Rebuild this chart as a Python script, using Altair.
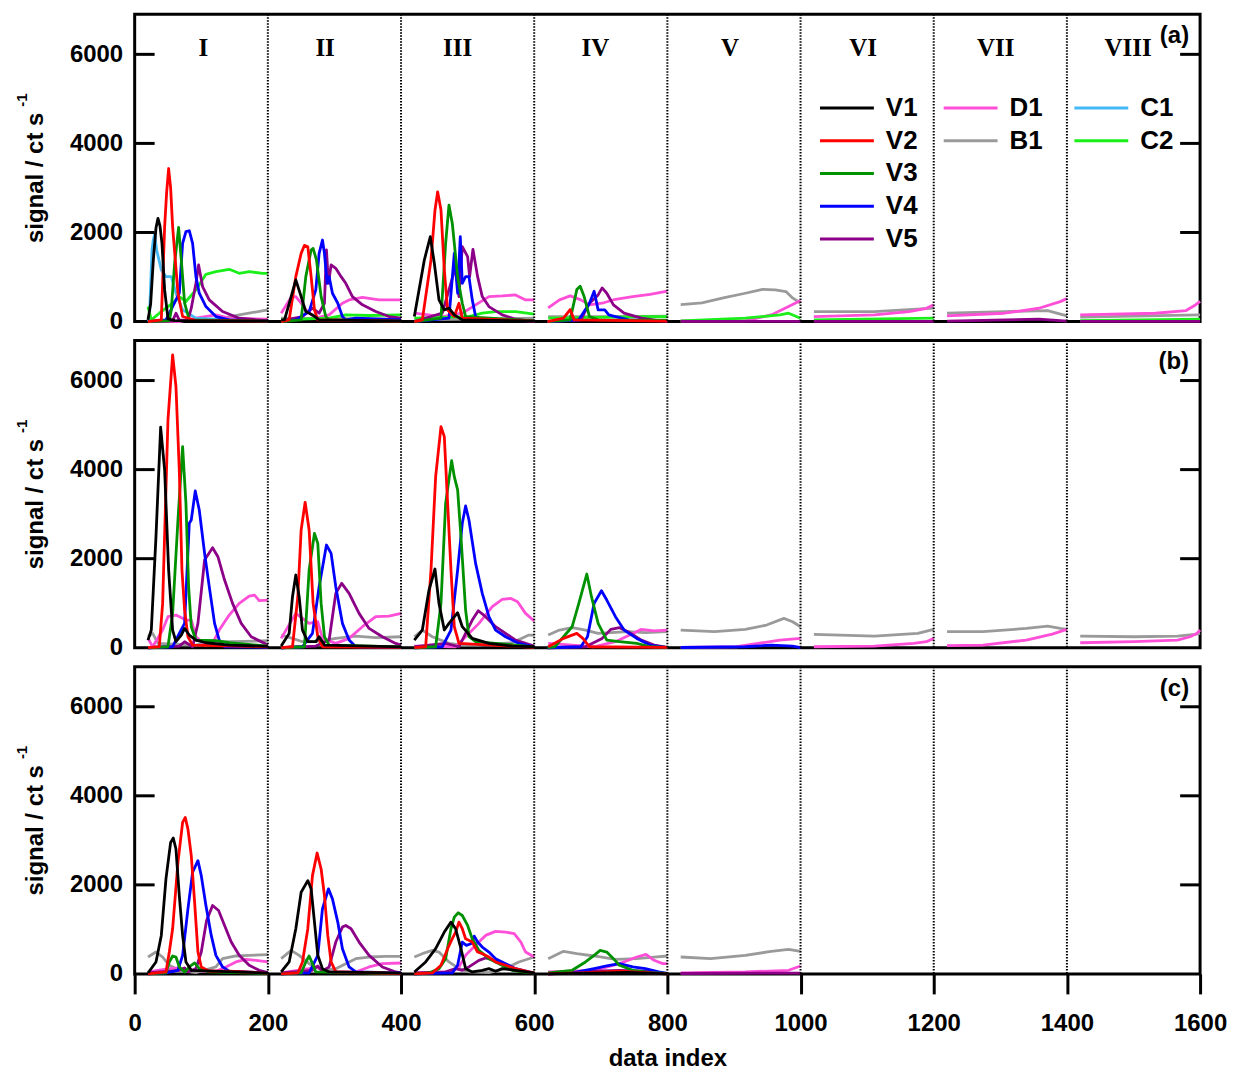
import altair as alt
import pandas as pd

# ---------------------------------------------------------------- series setup
SERIES = ["V1", "V2", "V3", "V4", "V5", "D1", "B1", "C1", "C2"]
COLORS = ["#000000", "#ff0000", "#009100", "#0000ff", "#8c0087",
          "#ff4fd8", "#9a9a9a", "#45b9f5", "#1aef1a"]
DRAW_ORDER = ["B1", "D1", "C1", "C2", "V5", "V4", "V3", "V2", "V1"]

BLOCK_NAMES = ["I", "II", "III", "IV", "V", "VI", "VII", "VIII"]
BLOCK_CENTRES = [103, 286, 485, 692, 894, 1094, 1293, 1492]
BLOCK_EDGES = [200, 400, 600, 800, 1000, 1200, 1400]
Y_TICKS = [2000, 4000, 6000]
X_TICKS = [0, 200, 400, 600, 800, 1000, 1200, 1400, 1600]
PANEL_TAGS = ["(a)", "(b)", "(c)"]

# ---------------------------------------------------------------- panel (a)
# every list holds one run per measurement block as (data index, signal) pairs
A_V1 = [
    [(20, 37), (24, 400), (28, 1380), (32, 2100), (35, 2316), (38, 2150), (41, 1755), (45, 710), (50, 60), (60, 20), (100, 15), (200, 10)],
    [(220, 37), (225, 37), (235, 560), (242, 934), (250, 560), (257, 224), (267, 149), (277, 37), (400, 10)],
    [(420, 112), (435, 1382), (444, 1905), (450, 1307), (457, 486), (465, 261), (472, 299), (480, 149), (492, 37), (600, 10)],
]
A_V2 = [
    [(20, 0), (40, 37), (45, 2129), (48, 2900), (51, 3436), (54, 3000), (57, 2129), (65, 635), (72, 112), (92, 20), (200, 10)],
    [(220, 0), (232, 37), (242, 1008), (250, 1531), (255, 1711), (260, 1680), (265, 1008), (270, 261), (275, 37), (400, 10)],
    [(420, 0), (432, 37), (445, 1382), (451, 2500), (455, 2913), (460, 2502), (465, 1158), (470, 261), (480, 112), (487, 411), (492, 75), (600, 10)],
    [(620, 0), (644, 75), (654, 269), (660, 37), (800, 10)],
]
A_V3 = [
    [(20, 0), (52, 20), (55, 261), (60, 1307), (66, 2114), (70, 1382), (75, 411), (82, 37), (200, 10)],
    [(220, 0), (250, 37), (257, 1008), (265, 1606), (268, 1643), (273, 1382), (280, 560), (287, 112), (292, 37), (400, 10)],
    [(420, 0), (460, 75), (467, 1755), (472, 2614), (477, 2204), (485, 1008), (492, 411), (497, 112), (600, 15)],
    [(620, 0), (654, 37), (664, 717), (669, 792), (675, 560), (683, 112), (696, 37), (800, 30)],
]
A_V4 = [
    [(20, 0), (47, 37), (57, 336), (67, 635), (72, 1755), (77, 2017), (82, 2039), (87, 1755), (92, 1008), (97, 635), (107, 336), (122, 112), (142, 37), (200, 15)],
    [(220, 0), (242, 37), (262, 224), (272, 710), (277, 1531), (282, 1830), (285, 1531), (289, 859), (292, 1008), (297, 635), (305, 411), (312, 112), (317, 37), (332, 75), (400, 37)],
    [(420, 0), (472, 75), (480, 1531), (485, 635), (489, 1905), (492, 859), (497, 1008), (502, 1008), (507, 486), (512, 112), (522, 37), (600, 10)],
    [(620, 0), (667, 37), (683, 411), (690, 680), (696, 261), (706, 261), (712, 149), (722, 112), (742, 37), (800, 15)],
]
A_V5 = [
    [(20, 0), (57, 15), (62, 187), (67, 30), (80, 30), (85, 300), (92, 859), (96, 1270), (102, 784), (112, 486), (132, 224), (157, 75), (200, 15)],
    [(220, 15), (252, 112), (267, 299), (277, 187), (285, 411), (288, 1606), (291, 859), (295, 1270), (302, 1195), (310, 1008), (317, 859), (327, 560), (342, 374), (362, 224), (382, 112), (400, 75)],
    [(420, 0), (462, 187), (482, 1233), (487, 560), (492, 1681), (500, 1457), (503, 1008), (508, 1621), (515, 1008), (522, 560), (532, 336), (552, 149), (572, 52), (600, 0)],
    [(620, 0), (670, 37), (683, 411), (696, 598), (702, 755), (709, 635), (719, 374), (735, 187), (761, 75), (787, 20), (800, 10)],
    [(820, 5), (1000, 5)],
    [(1020, 5), (1200, 5)],
    [(1220, 10), (1358, 52), (1400, 10)],
    [(1420, 5), (1600, 5)],
]
A_D1 = [
    [(20, 20), (67, 0), (92, 75), (122, 150), (142, 75), (200, 52)],
    [(220, 187), (235, 545), (242, 560), (250, 411), (257, 261), (272, 75), (292, 149), (312, 411), (322, 486), (342, 545), (367, 486), (400, 486)],
    [(420, 187), (462, 112), (492, 187), (512, 374), (532, 560), (552, 575), (572, 598), (587, 486), (600, 486)],
    [(621, 306), (638, 486), (654, 575), (670, 486), (683, 374), (702, 411), (722, 500), (748, 560), (774, 612), (800, 680)],
    [(820, 15), (917, 15), (956, 149), (982, 336), (1000, 470)],
    [(1020, 112), (1111, 149), (1163, 224), (1189, 298), (1200, 374)],
    [(1220, 127), (1306, 186), (1358, 298), (1390, 447), (1400, 514)],
    [(1420, 149), (1533, 186), (1579, 246), (1593, 372), (1600, 450)],
]
A_B1 = [
    [(20, 0), (117, 37), (157, 150), (200, 261)],
    [(220, 75), (400, 52)],
    [(420, 37), (600, 75)],
    [(621, 112), (700, 112), (800, 120)],
    [(820, 381), (852, 418), (884, 530), (917, 635), (943, 724), (962, 710), (978, 672), (988, 530), (1000, 411)],
    [(1020, 224), (1111, 224), (1200, 300)],
    [(1220, 186), (1306, 224), (1371, 246), (1400, 127)],
    [(1420, 97), (1600, 149)],
]
A_C1 = [
    [(20, 0), (22, 37), (26, 1606), (28, 1830), (30, 1950), (33, 1606), (40, 1158), (47, 1008), (55, 1008), (62, 635), (72, 261), (92, 75), (142, 37), (200, 15)],
]
A_C2 = [
    [(20, 336), (25, 37), (37, 187), (57, 411), (67, 560), (77, 450), (92, 710), (107, 1061), (122, 1120), (142, 1173), (157, 1083), (172, 1120), (192, 1083), (200, 1083)],
    [(220, 37), (292, 75), (317, 149), (352, 135), (400, 149)],
    [(420, 75), (502, 112), (522, 187), (542, 224), (572, 224), (600, 164)],
    [(621, 75), (761, 112), (800, 112)],
    [(820, 15), (917, 75), (969, 149), (982, 187), (1000, 75)],
    [(1020, 37), (1200, 75)],
    [(1420, 20), (1600, 52)],
]

# ---------------------------------------------------------------- panel (b)
B_V1 = [
    [(20, 172), (25, 397), (32, 2494), (39, 4951), (45, 3992), (51, 1745), (57, 397), (62, 135), (70, 285), (75, 434), (82, 285), (92, 172), (107, 112), (142, 60), (200, 30)],
    [(220, 37), (232, 322), (237, 1146), (242, 1633), (247, 1146), (252, 397), (260, 135), (272, 135), (277, 247), (285, 60), (400, 20)],
    [(420, 172), (432, 397), (442, 1296), (451, 1768), (457, 996), (465, 397), (472, 547), (485, 786), (492, 472), (507, 210), (532, 97), (567, 37), (600, 22)],
]
B_V2 = [
    [(20, 0), (37, 22), (42, 996), (50, 5116), (57, 6576), (62, 5865), (67, 3992), (71, 1745), (75, 846), (80, 247), (87, 60), (200, 20)],
    [(220, 0), (237, 22), (245, 1146), (250, 2644), (256, 3266), (262, 2644), (268, 996), (275, 247), (282, 22), (400, 10)],
    [(420, 0), (437, 22), (445, 1745), (452, 3842), (460, 4966), (465, 4741), (470, 3243), (475, 1745), (480, 472), (487, 97), (600, 10)],
    [(621, 22), (644, 210), (664, 322), (673, 210), (683, 22), (800, 10)],
]
B_V3 = [
    [(20, 0), (50, 22), (57, 771), (65, 2869), (72, 4516), (77, 3242), (81, 1371), (85, 472), (92, 172), (122, 157), (142, 112), (200, 37)],
    [(220, 0), (255, 22), (262, 1745), (270, 2569), (275, 2344), (280, 996), (285, 247), (292, 60), (400, 20)],
    [(420, 0), (452, 22), (460, 996), (467, 3243), (476, 4202), (480, 3842), (485, 3543), (490, 2494), (497, 846), (502, 247), (512, 135), (542, 97), (600, 20)],
    [(620, 0), (631, 22), (657, 472), (667, 996), (679, 1655), (686, 1146), (696, 547), (709, 172), (728, 135), (754, 97), (774, 22), (800, 10)],
]
B_V4 = [
    [(20, 0), (57, 22), (67, 322), (75, 547), (82, 2794), (85, 2869), (91, 3520), (97, 3093), (105, 2120), (112, 1371), (120, 547), (127, 172), (135, 22), (200, 10)],
    [(220, 0), (252, 22), (267, 322), (277, 1371), (288, 2307), (295, 2120), (302, 1371), (312, 547), (322, 172), (332, 22), (400, 10)],
    [(420, 0), (462, 22), (475, 397), (485, 1745), (492, 2794), (497, 3183), (502, 2869), (512, 1895), (522, 1221), (532, 697), (542, 397), (557, 247), (577, 97), (600, 22)],
    [(620, 0), (670, 22), (680, 247), (690, 996), (701, 1281), (709, 1071), (722, 697), (735, 397), (754, 210), (774, 60), (800, 0)],
    [(820, 5), (917, 22), (956, 60), (988, 37), (1000, 5)],
]
B_V5 = [
    [(20, 0), (67, 37), (75, 135), (87, 22), (95, 547), (105, 1970), (117, 2247), (125, 2045), (135, 1520), (147, 996), (160, 547), (175, 247), (200, 60)],
    [(220, 0), (272, 37), (292, 172), (297, 697), (302, 1221), (311, 1446), (322, 1221), (337, 771), (352, 434), (372, 247), (392, 97), (400, 60)],
    [(420, 22), (467, 97), (487, 22), (497, 322), (507, 622), (516, 831), (527, 697), (542, 472), (557, 322), (572, 172), (600, 37)],
    [(620, 0), (677, 22), (702, 210), (715, 412), (728, 449), (741, 360), (761, 172), (780, 60), (800, 10)],
]
B_D1 = [
    [(20, 210), (27, 22), (42, 397), (50, 697), (62, 734), (77, 622), (85, 622), (92, 247), (107, 60), (117, 97), (127, 397), (142, 734), (157, 996), (172, 1161), (180, 1183), (187, 1056), (200, 1071)],
    [(220, 210), (242, 771), (262, 547), (275, 584), (282, 210), (302, 97), (322, 210), (342, 472), (362, 697), (382, 712), (400, 771)],
    [(420, 37), (482, 22), (497, 247), (517, 547), (537, 921), (552, 1086), (565, 1108), (575, 1034), (587, 771), (600, 600)],
    [(621, 97), (657, 60), (690, 22), (722, 135), (748, 322), (761, 412), (780, 380), (800, 397)],
    [(820, 10), (904, 22), (936, 97), (969, 172), (1000, 210)],
    [(1020, 22), (1111, 37), (1170, 97), (1189, 135), (1200, 210)],
    [(1220, 45), (1274, 60), (1339, 172), (1378, 307), (1400, 412)],
    [(1420, 112), (1501, 135), (1566, 172), (1585, 247), (1595, 322), (1600, 397)],
]
B_B1 = [
    [(20, 247), (27, 322), (35, 97), (92, 60), (112, 135), (142, 135), (200, 157)],
    [(220, 285), (237, 210), (252, 135), (272, 135), (302, 210), (332, 262), (362, 225), (400, 247)],
    [(420, 247), (432, 397), (447, 247), (472, 97), (492, 60), (517, 60), (567, 112), (592, 285), (600, 285)],
    [(621, 285), (638, 397), (657, 449), (677, 397), (696, 322), (715, 337), (741, 360), (767, 337), (800, 360)],
    [(820, 397), (871, 360), (917, 412), (949, 509), (975, 659), (988, 584), (1000, 472)],
    [(1020, 300), (1111, 262), (1176, 322), (1200, 412)],
    [(1220, 360), (1274, 360), (1339, 434), (1371, 487), (1390, 434), (1400, 412)],
    [(1420, 262), (1501, 247), (1566, 262), (1592, 300), (1600, 322)],
]

# ---------------------------------------------------------------- panel (c)
C_V1 = [
    [(20, 22), (32, 269), (40, 865), (47, 2134), (54, 2954), (58, 3051), (62, 2805), (67, 1761), (72, 865), (77, 269), (85, 82), (200, 20)],
    [(220, 45), (232, 269), (242, 1015), (250, 1835), (260, 2096), (265, 1910), (270, 1164), (275, 418), (282, 119), (292, 45), (400, 20)],
    [(420, 45), (437, 269), (452, 567), (465, 940), (475, 1164), (482, 1015), (490, 567), (497, 119), (507, 45), (522, 82), (532, 119), (542, 60), (552, 119), (572, 82), (600, 22)],
    [(621, 0), (709, 22), (740, 37), (800, 0)],
]
C_V2 = [
    [(20, 0), (47, 45), (52, 492), (57, 1015), (65, 2507), (72, 3402), (76, 3514), (80, 3253), (85, 2656), (90, 1611), (95, 492), (100, 157), (112, 60), (142, 60), (200, 20)],
    [(220, 0), (245, 22), (252, 269), (260, 1015), (267, 2208), (274, 2715), (280, 2357), (285, 1761), (290, 865), (295, 269), (302, 45), (400, 10)],
    [(420, 0), (447, 22), (460, 194), (470, 567), (477, 791), (482, 940), (487, 1164), (492, 1015), (497, 791), (507, 716), (515, 492), (522, 455), (532, 380), (542, 269), (557, 194), (572, 119), (592, 45), (600, 30)],
    [(621, 0), (690, 37), (728, 60), (767, 30), (800, 0)],
]
C_V3 = [
    [(20, 0), (47, 22), (52, 269), (57, 403), (62, 380), (67, 157), (75, 45), (82, 157), (90, 246), (97, 119), (112, 45), (200, 10)],
    [(220, 0), (250, 22), (257, 269), (262, 403), (267, 231), (272, 45), (400, 10)],
    [(420, 0), (442, 22), (457, 119), (467, 343), (475, 1015), (480, 1276), (486, 1373), (492, 1313), (500, 1089), (507, 791), (517, 530), (532, 343), (547, 231), (567, 82), (582, 45), (600, 22)],
    [(621, 22), (657, 82), (677, 269), (690, 418), (699, 530), (709, 492), (719, 343), (728, 194), (748, 82), (774, 30), (800, 10)],
]
C_V4 = [
    [(20, 0), (47, 22), (65, 82), (72, 418), (80, 1462), (87, 2283), (95, 2544), (100, 2208), (107, 1537), (115, 865), (122, 418), (132, 157), (142, 60), (200, 22)],
    [(220, 0), (262, 22), (275, 418), (282, 1462), (291, 1910), (297, 1686), (305, 1164), (312, 567), (322, 157), (332, 45), (400, 22)],
    [(420, 0), (477, 22), (485, 194), (492, 716), (498, 642), (505, 679), (510, 850), (515, 716), (522, 604), (532, 492), (542, 343), (557, 231), (572, 119), (592, 45), (600, 22)],
    [(621, 0), (657, 22), (690, 119), (709, 179), (728, 231), (748, 157), (767, 119), (787, 45), (800, 10)],
]
C_V5 = [
    [(20, 22), (67, 82), (75, 134), (80, 45), (92, 119), (100, 492), (108, 1201), (117, 1537), (126, 1425), (135, 1089), (145, 716), (157, 418), (172, 194), (187, 82), (200, 30)],
    [(220, 22), (267, 82), (275, 179), (282, 60), (292, 157), (302, 716), (312, 1052), (317, 1089), (325, 1015), (337, 716), (352, 418), (372, 157), (392, 45), (400, 22)],
    [(420, 22), (467, 45), (482, 119), (492, 82), (502, 157), (517, 306), (527, 358), (537, 320), (552, 231), (567, 119), (587, 45), (600, 22)],
    [(621, 0), (690, 60), (728, 82), (770, 60), (800, 0)],
    [(820, 10), (1000, 20)],
]
C_D1 = [
    [(20, 45), (52, 119), (67, 134), (82, 82), (122, 60), (137, 157), (152, 269), (167, 328), (182, 306), (200, 269)],
    [(220, 22), (262, 119), (272, 157), (292, 45), (332, 45), (352, 157), (372, 231), (400, 246)],
    [(420, 22), (477, 45), (487, 157), (497, 418), (512, 642), (527, 865), (542, 955), (557, 940), (570, 903), (580, 716), (587, 492), (600, 380)],
    [(621, 45), (690, 82), (728, 231), (754, 380), (768, 440), (780, 306), (793, 231), (800, 231)],
    [(820, 22), (917, 45), (982, 82), (1000, 179)],
]
C_B1 = [
    [(20, 380), (32, 492), (42, 380), (52, 194), (67, 82), (92, 30), (122, 157), (132, 343), (152, 403), (172, 418), (200, 433)],
    [(220, 343), (235, 530), (247, 418), (262, 231), (282, 82), (302, 119), (317, 231), (332, 343), (352, 380), (377, 395), (400, 395)],
    [(420, 380), (432, 455), (447, 530), (457, 492), (472, 269), (487, 119), (502, 45), (532, 30), (557, 119), (577, 269), (600, 380)],
    [(621, 343), (644, 507), (664, 455), (690, 403), (722, 328), (754, 343), (780, 380), (800, 403)],
    [(820, 380), (865, 343), (917, 418), (956, 507), (982, 552), (1000, 507)],
]

PANELS = [
    {"V1": A_V1, "V2": A_V2, "V3": A_V3, "V4": A_V4, "V5": A_V5,
     "D1": A_D1, "B1": A_B1, "C1": A_C1, "C2": A_C2},
    {"V1": B_V1, "V2": B_V2, "V3": B_V3, "V4": B_V4, "V5": B_V5,
     "D1": B_D1, "B1": B_B1},
    {"V1": C_V1, "V2": C_V2, "V3": C_V3, "V4": C_V4, "V5": C_V5,
     "D1": C_D1, "B1": C_B1},
]

# ---------------------------------------------------------------- styling
W, H = 1068, 308
SANS = "Liberation Sans"
SERIF = "Liberation Serif"

x_scale = alt.Scale(domain=[0, 1600], nice=False, zero=False)
y_scale = alt.Scale(domain=[0, 6900], nice=False)
color_scale = alt.Scale(domain=SERIES, range=COLORS)

y_axis = alt.Axis(values=[0, 2000, 4000, 6000], tickSize=0, domain=False, grid=False,
                  labelFont=SANS, labelFontSize=24, labelFontWeight="bold",
                  labelColor="black", labelPadding=12, labelFlush=False,
                  format="d", title=None)
x_axis = alt.Axis(values=X_TICKS, tickSize=20, tickWidth=3, tickColor="black",
                  domain=False, grid=False, labelFont=SANS, labelFontSize=24,
                  labelFontWeight="bold", labelColor="black", labelPadding=18,
                  labelFlush=False, labelOverlap=False, format="d",
                  title="data index", titleFont=SANS, titleFontSize=24,
                  titleFontWeight="bold", titleColor="black", titlePadding=11)


def traces_frame(panel):
    rows = []
    for name in DRAW_ORDER:
        for k, run in enumerate(panel.get(name, [])):
            for x, y in run:
                rows.append({"series": name, "run": k, "x": x, "y": y})
    return pd.DataFrame(rows)


def legend_frame():
    columns = [["V1", "V2", "V3", "V4", "V5"], ["D1", "B1"], ["C1", "C2"]]
    starts = [687, 811, 942]
    rows = []
    for c, names in enumerate(columns):
        for r, name in enumerate(names):
            rows.append({"series": name, "lx": starts[c], "lx2": starts[c] + 54,
                         "tx": starts[c] + 66, "ly": 94 + r * 32.8})
    return pd.DataFrame(rows)


def make_panel(idx):
    data = traces_frame(PANELS[idx])
    bottom = idx == 2
    xax = x_axis if bottom else None

    lines = alt.Chart(data).mark_line(strokeWidth=2.8, strokeJoin="round").encode(
        x=alt.X("x:Q", scale=x_scale, axis=xax),
        y=alt.Y("y:Q", scale=y_scale, axis=y_axis),
        color=alt.Color("series:N", scale=color_scale, legend=None),
        detail="run:N",
    )

    edges = alt.Chart(pd.DataFrame({"x": BLOCK_EDGES})).mark_rule(
        color="black", strokeWidth=2, strokeDash=[1.5, 1.5]
    ).encode(x=alt.X("x:Q", scale=x_scale, axis=xax))

    ticks = pd.DataFrame({"y": Y_TICKS})
    left_ticks = alt.Chart(ticks).mark_rule(color="black", strokeWidth=3).encode(
        y=alt.Y("y:Q", scale=y_scale, axis=y_axis), x=alt.value(0), x2=alt.value(20))
    right_ticks = alt.Chart(ticks).mark_rule(color="black", strokeWidth=3).encode(
        y=alt.Y("y:Q", scale=y_scale, axis=y_axis), x=alt.value(W - 20), x2=alt.value(W))

    ytitle = alt.Chart(pd.DataFrame({"t": ["signal / ct s"]})).mark_text(
        angle=270, font=SANS, fontSize=24, fontWeight="bold", color="black",
        align="center", baseline="alphabetic"
    ).encode(text="t:N", x=alt.value(-92), y=alt.value(164))
    ysup = alt.Chart(pd.DataFrame({"t": ["-1"]})).mark_text(
        angle=270, font=SANS, fontSize=15, fontWeight="bold", color="black",
        align="center", baseline="alphabetic"
    ).encode(text="t:N", x=alt.value(-108), y=alt.value(86))

    tag = alt.Chart(pd.DataFrame({"t": [PANEL_TAGS[idx]]})).mark_text(
        font=SANS, fontSize=24, fontWeight="bold", color="black",
        align="right", baseline="middle"
    ).encode(text="t:N", x=alt.value(W - 11), y=alt.value(22))

    layers = [lines, edges, left_ticks, right_ticks, ytitle, ysup, tag]

    if idx == 0:
        numerals = alt.Chart(pd.DataFrame({"x": BLOCK_CENTRES, "name": BLOCK_NAMES})).mark_text(
            font=SERIF, fontSize=25, fontWeight="bold", color="black",
            align="center", baseline="middle"
        ).encode(x=alt.X("x:Q", scale=x_scale, axis=xax), y=alt.value(34), text="name:N")

        leg = legend_frame()
        leg_lines = alt.Chart(leg).mark_rule(strokeWidth=3).encode(
            x=alt.X("lx:Q", scale=None), x2="lx2:Q",
            y=alt.Y("ly:Q", scale=None),
            color=alt.Color("series:N", scale=color_scale, legend=None),
        )
        leg_text = alt.Chart(leg).mark_text(
            font=SANS, fontSize=26, fontWeight="bold", color="black",
            align="left", baseline="middle"
        ).encode(x=alt.X("tx:Q", scale=None), y=alt.Y("ly:Q", scale=None), text="series:N")
        layers += [numerals, leg_lines, leg_text]

    return alt.layer(*layers).properties(width=W, height=H)


chart = alt.vconcat(make_panel(0), make_panel(1), make_panel(2),
                    spacing=19, bounds="flush").properties(
    padding={"left": 13, "top": 10, "right": 5, "bottom": 0}
).configure(background="white").configure_view(stroke="black", strokeWidth=3)

chart.save("out.html", embed_options={"renderer": "svg", "actions": False})
